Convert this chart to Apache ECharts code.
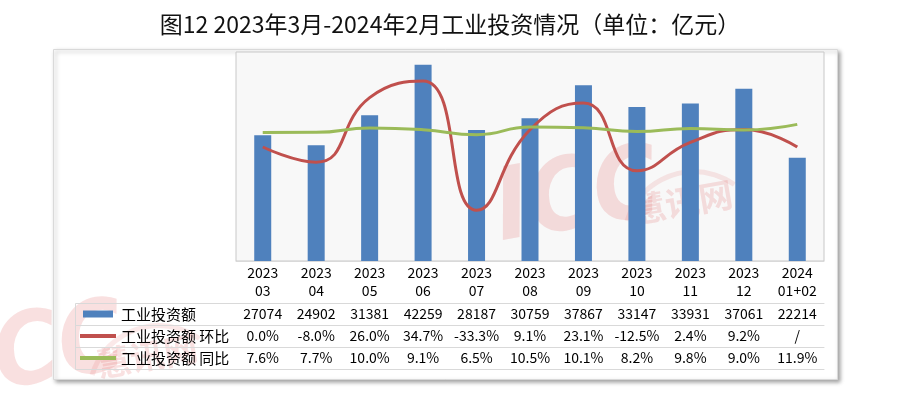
<!DOCTYPE html>
<html>
<head>
<meta charset="utf-8">
<script src="https://cdn.jsdelivr.net/npm/echarts@6/dist/echarts.min.js"></script>
<style>
  html, body { margin: 0; padding: 0; background: #fff; }
  #chart { width: 900px; height: 413px; }
</style>
</head>
<body>
<div id="chart"></div>
<script>
// 月份（表头）
var months = ['2023\n03', '2023\n04', '2023\n05', '2023\n06', '2023\n07', '2023\n08',
              '2023\n09', '2023\n10', '2023\n11', '2023\n12', '2024\n01+02'];
// 工业投资额（亿元）
var invest = [27074, 24902, 31381, 42259, 28187, 30759, 37867, 33147, 33931, 37061, 22214];
// 环比（%），最后一期为 "/"
var huanbi = [0.0, -8.0, 26.0, 34.7, -33.3, 9.1, 23.1, -12.5, 2.4, 9.2, null];
// 同比（%）
var tongbi = [7.6, 7.7, 10.0, 9.1, 6.5, 10.5, 10.1, 8.2, 9.8, 9.0, 11.9];

var seriesNames = ['工业投资额', '工业投资额 环比', '工业投资额 同比'];

var investText = invest.map(function (v) { return String(v); });
var huanbiText = huanbi.map(function (v) { return v == null ? '/' : v.toFixed(1) + '%'; });
var tongbiText = tongbi.map(function (v) { return v.toFixed(1) + '%'; });

var FONT = '"Noto Sans CJK SC", "Noto Sans", sans-serif';
var LINE_C = '#d9d9d9';

// 表格各行（用x轴标签做）
function rowAxis(data, offset, showLabel) {
    return {
        type: 'category',
        data: data,
        position: 'bottom',
        offset: offset,
        axisLine: { show: true, onZero: false, lineStyle: { color: LINE_C } },
        axisTick: { show: false },
        splitLine: { show: false },
        axisLabel: {
            show: showLabel, interval: 0, margin: 0, lineHeight: 22,
            fontSize: 14, color: '#000', fontFamily: FONT
        }
    };
}

// 水印
function watermark(x, y) {
    return {
        type: 'group', x: x, y: y, rotation: 0.17, z: 100, silent: true,
        children: [
            { type: 'text', x: 0, y: 0, style: { text: 'ICC', fontSize: 100, fontWeight: 'bold', fontStyle: 'italic',
                fontFamily: '"Liberation Sans Narrow", "DejaVu Sans Condensed", sans-serif',
                fill: 'rgba(220, 70, 70, 0.17)', textVerticalAlign: 'bottom' } },
            { type: 'text', x: 134, y: -14, style: { text: '慧讯网', fontSize: 34, fontWeight: 'bold', fontFamily: FONT,
                fill: 'rgba(220, 70, 70, 0.16)', textVerticalAlign: 'bottom' } },
            { type: 'arc', shape: { cx: 190, cy: 10, r: 70, startAngle: Math.PI * 1.15, endAngle: Math.PI * 1.75 },
              style: { stroke: 'rgba(220, 70, 70, 0.12)', lineWidth: 5, fill: null } }
        ]
    };
}

var chart = echarts.init(document.getElementById('chart'));

var option = {
    backgroundColor: '#fff',
    animation: false,
    title: {
        text: '图12 2023年3月-2024年2月工业投资情况（单位：亿元）',
        left: 'center', top: 8,
        textStyle: { fontSize: 23, fontWeight: 'normal', color: '#111', fontFamily: FONT }
    },
    legend: {
        orient: 'vertical', left: 80, top: 303, itemGap: 0, padding: 0,
        itemWidth: 36, itemHeight: 7, symbolKeepAspect: true, selectedMode: false,
        textStyle: { fontSize: 15, lineHeight: 22, color: '#000', fontFamily: FONT },
        data: [
            { name: seriesNames[0], icon: 'path://M0,0H30V7H0Z' },
            { name: seriesNames[1], icon: 'path://M0,0H36V4H0Z' },
            { name: seriesNames[2], icon: 'path://M0,0H36V4H0Z' }
        ]
    },
    grid: {
        left: 236, right: 76, top: 52, bottom: 152,
        show: true, backgroundColor: '#f8f8f8', borderColor: '#c8c8c8', borderWidth: 1
    },
    xAxis: [
        {
            type: 'category',
            data: months,
            axisLine: { onZero: false, lineStyle: { color: LINE_C } },
            axisTick: { length: 108, lineStyle: { color: LINE_C } },
            axisLabel: { interval: 0, margin: 3, lineHeight: 18, fontSize: 14, color: '#000', fontFamily: FONT }
        },
        rowAxis(investText, 42, true),
        rowAxis(huanbiText, 64, true),
        rowAxis(tongbiText, 86, true),
        rowAxis(months, 108, false)
    ],
    yAxis: [
        { type: 'value', min: 0, max: 45000, show: false },
        { type: 'value', min: -60, max: 50, show: false }
    ],
    graphic: [
        // 外框
        { type: 'rect', z: -10, shape: { x: 53.5, y: 49.5, width: 784, height: 330 },
          style: { fill: '#fff', stroke: LINE_C, lineWidth: 1, shadowBlur: 4, shadowOffsetX: 2, shadowOffsetY: 2,
                   shadowColor: 'rgba(0,0,0,0.35)' } },
        // 表格左侧图例区的线
        { type: 'line', z: 5, shape: { x1: 75.5, y1: 303.5, x2: 236, y2: 303.5 }, style: { stroke: LINE_C } },
        { type: 'line', z: 5, shape: { x1: 75.5, y1: 325.5, x2: 236, y2: 325.5 }, style: { stroke: LINE_C } },
        { type: 'line', z: 5, shape: { x1: 75.5, y1: 347.5, x2: 236, y2: 347.5 }, style: { stroke: LINE_C } },
        { type: 'line', z: 5, shape: { x1: 75.5, y1: 369.5, x2: 236, y2: 369.5 }, style: { stroke: LINE_C } },
        { type: 'line', z: 5, shape: { x1: 75.5, y1: 303.5, x2: 75.5, y2: 369.5 }, style: { stroke: LINE_C } },
        watermark(505, 264),
        watermark(-30, 418)
    ],
    series: [
        {
            name: seriesNames[0], type: 'bar', data: invest, barWidth: 17,
            itemStyle: { color: '#4f81bd' }
        },
        {
            // 表中 "/" 在原图中按 0 绘制
            name: seriesNames[1], type: 'line', yAxisIndex: 1, smooth: 0.5, symbol: 'none',
            data: huanbi.map(function (v) { return v == null ? 0 : v; }),
            itemStyle: { color: '#c0504d' },
            lineStyle: { color: '#c0504d', width: 3 }
        },
        {
            name: seriesNames[2], type: 'line', yAxisIndex: 1, smooth: 0.5, symbol: 'none',
            data: tongbi,
            itemStyle: { color: '#9bbb59' },
            lineStyle: { color: '#9bbb59', width: 3 }
        }
    ]
};

chart.setOption(option);
</script>
</body>
</html>
